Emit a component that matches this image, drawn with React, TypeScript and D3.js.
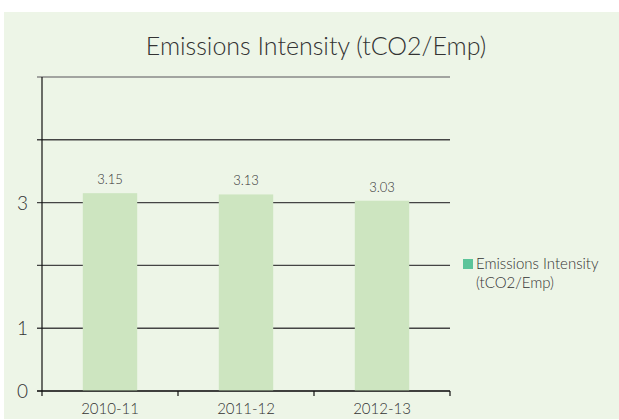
import * as d3 from "d3";
import { useEffect, useRef } from "react";

const categories = ["2010-11", "2011-12", "2012-13"];
const values = [3.15, 3.13, 3.03];
const valueLabels = ["3.15", "3.13", "3.03"];
const gridValues = [0, 1, 2, 3, 4, 5];
const tickLabels = [0, 1, 3];
const title = "Emissions Intensity (tCO2/Emp)";
const legendLines = ["Emissions Intensity", "(tCO2/Emp)"];

export default function App() {
  const ref = useRef<SVGSVGElement>(null);
  const width = 619,
    height = 420;

  useEffect(() => {
    const svg = d3.select(ref.current);
    svg.selectAll("*").remove();
    const font = "Lato, 'Liberation Sans', sans-serif";

    svg
      .append("rect")
      .attr("x", 4)
      .attr("y", 12)
      .attr("width", width - 4)
      .attr("height", height - 13)
      .attr("fill", "#edf5e7");

    svg
      .append("text")
      .attr("x", 316)
      .attr("y", 55)
      .attr("text-anchor", "middle")
      .attr("font-family", font)
      .attr("font-weight", 300)
      .attr("font-size", 25)
      .attr("fill", "#333")
      .text(title);

    const x = d3.scaleBand().domain(categories).range([42, 450]).paddingInner(0.6).paddingOuter(0.3);
    const y = d3.scaleLinear().domain([0, 5]).range([391, 77]);

    // gridlines
    svg
      .selectAll(".grid")
      .data(gridValues)
      .join("line")
      .attr("x1", 37)
      .attr("x2", 450)
      .attr("y1", (d) => y(d))
      .attr("y2", (d) => y(d))
      .attr("stroke", (d) => (d === 5 ? "#888" : "#444"))
      .attr("stroke-width", 1.4);

    svg
      .selectAll(".bar")
      .data(values)
      .join("rect")
      .attr("x", (_, i) => x(categories[i])!)
      .attr("y", (d) => y(d))
      .attr("width", x.bandwidth())
      .attr("height", (d) => y(0) - y(d))
      .attr("fill", "#cde5c0");

    svg
      .selectAll(".vlabel")
      .data(values)
      .join("text")
      .attr("x", (_, i) => x(categories[i])! + x.bandwidth() / 2)
      .attr("y", (d) => y(d) - 9)
      .attr("text-anchor", "middle")
      .attr("font-family", font)
      .attr("font-weight", 300)
      .attr("font-size", 13)
      .attr("fill", "#333")
      .text((_, i) => valueLabels[i]);

    // axes
    svg
      .append("line")
      .attr("x1", 42)
      .attr("x2", 42)
      .attr("y1", 77)
      .attr("y2", 391)
      .attr("stroke", "#111")
      .attr("stroke-width", 1.2);
    svg
      .append("line")
      .attr("x1", 37)
      .attr("x2", 450)
      .attr("y1", 391)
      .attr("y2", 391)
      .attr("stroke", "#111")
      .attr("stroke-width", 1.2);

    const bandEdges = [0, 1, 2, 3].map((i) => 42 + i * ((450 - 42) / categories.length));
    svg
      .selectAll(".xtick")
      .data(bandEdges)
      .join("line")
      .attr("x1", (d) => d)
      .attr("x2", (d) => d)
      .attr("y1", 391)
      .attr("y2", 396)
      .attr("stroke", "#111")
      .attr("stroke-width", 1.2);

    svg
      .selectAll(".ylabel")
      .data(tickLabels)
      .join("text")
      .attr("x", 28)
      .attr("y", (d) => y(d) + 7)
      .attr("text-anchor", "end")
      .attr("font-family", font)
      .attr("font-weight", 300)
      .attr("font-size", 19)
      .attr("fill", "#333")
      .text((d) => d);

    svg
      .selectAll(".xlabel")
      .data(categories)
      .join("text")
      .attr("x", (d) => x(d)! + x.bandwidth() / 2)
      .attr("y", 414)
      .attr("text-anchor", "middle")
      .attr("font-family", font)
      .attr("font-weight", 300)
      .attr("font-size", 15)
      .attr("fill", "#333")
      .text((d) => d);

    // legend
    svg
      .append("rect")
      .attr("x", 463)
      .attr("y", 259)
      .attr("width", 10)
      .attr("height", 10)
      .attr("fill", "#5cc49a");
    svg
      .selectAll(".legend")
      .data(legendLines)
      .join("text")
      .attr("x", 476)
      .attr("y", (_, i) => 269 + i * 19)
      .attr("font-family", font)
      .attr("font-weight", 300)
      .attr("font-size", 15)
      .attr("fill", "#333")
      .text((d) => d);
  }, []);

  return (
    <svg
      ref={ref}
      width={width}
      height={height}
      style={{ position: "absolute", left: 0, top: 0 }}
    />
  );
}
